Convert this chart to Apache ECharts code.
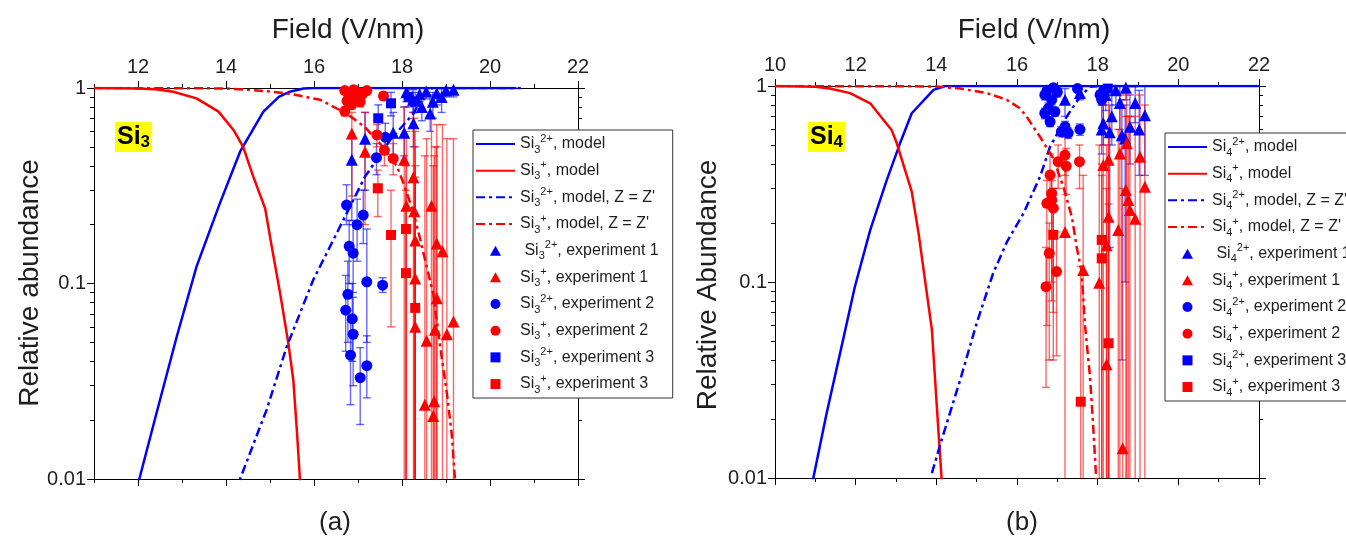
<!DOCTYPE html>
<html>
<head>
<meta charset="utf-8">
<script src="https://cdn.jsdelivr.net/npm/echarts@6/dist/echarts.min.js"></script>
<style>
html, body { margin: 0; padding: 0; background: #fff; }
#chart { width: 1346px; height: 543px; }
</style>
</head>
<body>
<div id="chart"></div>
<script>
// ---------- axis ranges and tick labels ----------
const si3FieldRange = [11, 22];
const si3FieldLabels = [12, 14, 16, 18, 20, 22];
const si4FieldRange = [10, 22];
const si4FieldLabels = [10, 12, 14, 16, 18, 20, 22];
const abundanceRange = [0.01, 1];

// ---------- Si3: model curves [field (V/nm), relative abundance] ----------
const si3DiModel = [[11.9, 0.0085], [12.03, 0.01], [12.42, 0.0217], [12.88, 0.0534], [13.33, 0.122], [13.86, 0.257],
  [14.32, 0.472], [14.85, 0.757], [15.2, 0.9], [15.45, 0.957], [15.76, 0.995], [16.0, 1], [20.6, 1]];
const si3MonoModel = [[11, 1], [12, 0.995], [12.4, 0.985], [12.8, 0.957], [13.33, 0.885], [13.83, 0.757], [14.17, 0.61],
  [14.39, 0.5], [14.62, 0.352], [14.89, 0.242], [15.04, 0.154], [15.23, 0.089], [15.42, 0.049], [15.53, 0.032],
  [15.61, 0.0178], [15.68, 0.01], [15.72, 0.008]];
const si3DiModelZ = [[14.25, 0.0085], [14.32, 0.01], [14.92, 0.0225], [15.38, 0.0475], [15.98, 0.104], [16.59, 0.195],
  [17.16, 0.352], [17.73, 0.542], [18.26, 0.74], [18.56, 0.98], [18.7, 1], [20.7, 1]];
const si3MonoModelZ = [[11, 1], [14, 0.995], [15, 0.96], [15.5, 0.93], [16.14, 0.87], [16.74, 0.74], [17.16, 0.63],
  [17.5, 0.52], [17.88, 0.4], [18.07, 0.31], [18.26, 0.23], [18.41, 0.17], [18.56, 0.122], [18.71, 0.089],
  [18.86, 0.049], [19.02, 0.0274], [19.13, 0.017], [19.2, 0.0103], [19.23, 0.008]];

// ---------- Si3: experiments [field, abundance, error low, error high] ----------
const si3DiExp1 = [[16.86, 0.43, 0.21, 0.55], [17.16, 0.55, 0.3, 0.75], [17.8, 0.59, 0.45, 0.75], [18.05, 0.59, 0.45, 0.8],
  [18.26, 0.66, 0.5, 0.9], [18.64, 0.74, 0.6, 0.92], [18.25, 0.87, 0.75, 0.98], [18.4, 0.93, 0.85, 1],
  [18.79, 0.94, 0.82, 1], [18.9, 0.9, 0.75, 1], [19.0, 0.97, 0.9, 1], [19.17, 0.98, 0.9, 1],
  [18.55, 0.96, 0.88, 1], [18.1, 0.95, 0.85, 1], [18.7, 0.85, 0.7, 0.95], [18.45, 0.8, 0.68, 0.92]];
const si3MonoExp1 = [[16.86, 0.586, 0.28, 0.75], [17.16, 0.472, 0.2, 0.75], [18.05, 0.43, 0.001, 0.8], [18.26, 0.35, 0.001, 0.75],
  [18.1, 0.25, 0.001, 0.6], [18.28, 0.234, 0.001, 0.7], [18.67, 0.25, 0.001, 0.7], [18.3, 0.166, 0.001, 0.6],
  [18.79, 0.16, 0.001, 0.65], [18.92, 0.146, 0.001, 0.65], [18.3, 0.106, 0.001, 0.5], [18.79, 0.084, 0.001, 0.5],
  [19.17, 0.064, 0.001, 0.55], [18.3, 0.06, 0.001, 0.4], [18.75, 0.058, 0.001, 0.5], [18.56, 0.051, 0.001, 0.55],
  [19.02, 0.055, 0.001, 0.55], [18.52, 0.024, 0.001, 0.45], [18.73, 0.025, 0.001, 0.45], [18.71, 0.021, 0.001, 0.4]];
const si3DiExp2 = [[16.74, 0.252, 0.2, 0.32], [17.12, 0.224, 0.16, 0.3], [16.98, 0.2, 0.13, 0.27], [16.8, 0.155, 0.1, 0.21],
  [16.89, 0.143, 0.09, 0.2], [17.2, 0.102, 0.05, 0.19], [17.56, 0.098, 0.09, 0.107], [16.77, 0.088, 0.05, 0.13],
  [16.72, 0.073, 0.045, 0.11], [16.87, 0.066, 0.04, 0.1], [16.89, 0.055, 0.03, 0.085], [16.83, 0.043, 0.024, 0.065],
  [17.2, 0.038, 0.026, 0.054], [17.05, 0.033, 0.019, 0.047], [17.42, 0.44, 0.36, 0.52], [17.62, 0.56, 0.46, 0.66]];
const si3MonoExp2 = [[16.7, 0.97, 0.94, 1], [16.8, 0.92, 0.88, 0.96], [16.9, 0.98, 0.95, 1], [16.95, 0.9, 0.86, 0.94],
  [17.0, 0.95, 0.92, 0.98], [17.1, 0.93, 0.9, 0.96], [16.75, 0.86, 0.82, 0.9], [17.2, 0.97, 0.94, 1],
  [17.05, 0.85, 0.8, 0.9], [16.85, 0.82, 0.78, 0.86], [16.7, 0.76, 0.72, 0.8], [17.58, 0.91, 0.87, 0.95],
  [17.43, 0.575, 0.5, 0.65], [17.6, 0.48, 0.4, 0.56], [17.8, 0.436, 0.36, 0.52]];
const si3DiExp3 = [[17.75, 0.835, 0.72, 0.95], [17.46, 0.7, 0.58, 0.82], [18.15, 0.9, 0.8, 1], [18.3, 0.85, 0.75, 0.95]];
const si3MonoExp3 = [[17.45, 0.307, 0.22, 0.38], [17.75, 0.177, 0.06, 0.3], [18.09, 0.19, 0.001, 0.4],
  [18.09, 0.113, 0.001, 0.3], [18.3, 0.075, 0.001, 0.35]];

// ---------- Si4: model curves ----------
const si4DiModel = [[10.9, 0.0085], [10.95, 0.01], [11.28, 0.0214], [11.65, 0.0468], [11.98, 0.0946], [12.36, 0.184],
  [12.77, 0.331], [13.1, 0.51], [13.39, 0.726], [13.93, 0.955], [14.22, 1], [22, 1]];
const si4MonoModel = [[10, 1], [11, 0.99], [11.36, 0.97], [11.86, 0.92], [12.36, 0.816], [12.89, 0.597], [13.02, 0.51],
  [13.39, 0.289], [13.56, 0.177], [13.72, 0.102], [13.89, 0.057], [13.97, 0.0316], [14.05, 0.0176], [14.13, 0.01],
  [14.15, 0.008]];
const si4DiModelZ = [[13.89, 0.0106], [14.13, 0.0156], [14.59, 0.0316], [15.0, 0.0616], [15.41, 0.111], [15.75, 0.16],
  [16.16, 0.224], [16.57, 0.344], [16.82, 0.49], [17.23, 0.697], [17.56, 0.88], [17.81, 0.99], [18.0, 1], [19.0, 1]];
const si4MonoModelZ = [[10, 1], [14, 0.995], [14.59, 0.97], [15.25, 0.92], [15.75, 0.85], [16.07, 0.77], [16.24, 0.697],
  [16.57, 0.551], [16.9, 0.427], [17.15, 0.306], [17.36, 0.215], [17.48, 0.151], [17.6, 0.113], [17.69, 0.059],
  [17.81, 0.0329], [17.89, 0.0183], [17.96, 0.0102], [17.97, 0.009]];

// ---------- Si4: experiments ----------
const si4DiExp1 = [[17.19, 0.85, 0.7, 0.97], [17.56, 0.92, 0.85, 1], [18.14, 0.645, 0.5, 0.85], [18.55, 0.82, 0.6, 1],
  [18.8, 0.62, 0.4, 0.9], [19.03, 0.6, 0.35, 0.95], [18.93, 0.82, 0.65, 1], [19.17, 0.71, 0.35, 1],
  [18.6, 0.56, 0.04, 0.85], [18.68, 0.54, 0.1, 0.8], [18.2, 0.9, 0.75, 1], [18.45, 0.95, 0.8, 1],
  [18.7, 0.98, 0.85, 1], [18.35, 0.7, 0.5, 0.9], [18.3, 0.58, 0.15, 0.8], [18.1, 0.6, 0.45, 0.8]];
const si4MonoExp1 = [[17.19, 0.18, 0.001, 0.45], [17.64, 0.115, 0.001, 0.35], [18.14, 0.395, 0.001, 0.8],
  [18.27, 0.42, 0.001, 0.9], [18.55, 0.453, 0.001, 0.9], [18.72, 0.51, 0.001, 0.9], [19.05, 0.436, 0.001, 0.9],
  [19.17, 0.306, 0.001, 0.8], [18.7, 0.295, 0.001, 0.7], [18.76, 0.262, 0.001, 0.7], [18.8, 0.233, 0.001, 0.7],
  [18.93, 0.21, 0.001, 0.7], [18.51, 0.184, 0.001, 0.6], [18.27, 0.215, 0.001, 0.6], [18.22, 0.154, 0.001, 0.5],
  [18.04, 0.099, 0.001, 0.5], [18.22, 0.038, 0.001, 0.3], [18.62, 0.0142, 0.001, 0.3]];
const si4DiExp2 = [[16.69, 0.9, 0.85, 0.95], [16.86, 0.85, 0.8, 0.9], [16.78, 0.77, 0.72, 0.82], [16.94, 0.74, 0.7, 0.78],
  [16.82, 0.657, 0.62, 0.7], [16.69, 0.726, 0.68, 0.77], [17.19, 0.62, 0.58, 0.66], [17.1, 0.585, 0.55, 0.62],
  [17.56, 0.6, 0.56, 0.64], [17.27, 0.575, 0.54, 0.61], [16.75, 0.95, 0.9, 1], [17.0, 0.93, 0.88, 0.98],
  [18.06, 0.9, 0.85, 0.95], [18.15, 0.95, 0.9, 1], [18.1, 0.85, 0.8, 0.9], [17.5, 0.97, 0.93, 1], [16.9, 0.98, 0.94, 1]];
const si4MonoExp2 = [[17.19, 0.444, 0.35, 0.55], [17.02, 0.411, 0.3, 0.5], [17.22, 0.39, 0.28, 0.48], [17.55, 0.411, 0.3, 0.5],
  [16.82, 0.351, 0.25, 0.45], [16.86, 0.283, 0.1, 0.35], [16.86, 0.262, 0.08, 0.33], [16.74, 0.252, 0.06, 0.33],
  [16.9, 0.238, 0.07, 0.3], [16.8, 0.14, 0.04, 0.2], [16.98, 0.113, 0.042, 0.18], [16.72, 0.0946, 0.029, 0.15]];
const si4DiExp3 = [[18.15, 0.92, 0.85, 1], [18.25, 0.97, 0.9, 1]];
const si4MonoExp3 = [[16.9, 0.174, 0.04, 0.3], [18.1, 0.164, 0.001, 0.4], [18.1, 0.132, 0.001, 0.35],
  [17.58, 0.0245, 0.001, 0.12], [18.27, 0.0487, 0.001, 0.25]];

// ---------- styling ----------
const FONT = '"Liberation Sans", Arial, sans-serif';
const BLUE = '#0000ff';
const RED = '#ff0000';
const INK = '#1e1e1e';
const DASH_DOT = [9, 4, 3, 4];
const TRIANGLE_ICON = 'path://M5,0L10,9L0,9Z';
const SQUARE_ICON = 'path://M0,0L8,0L8,8L0,8Z';

const chart = echarts.init(document.getElementById('chart'), null, { renderer: 'canvas' });

const axisLine = { show: true, lineStyle: { color: '#000', width: 1 } };
const tickLine = { color: '#000', width: 1 };

function integerTicks(range) {
  const out = [];
  for (let v = range[0]; v <= range[1]; v++) out.push(v);
  return out;
}

// minor decade ticks, placed on an exponent axis spanning the same height
function minorDecadeExponents() {
  const out = [];
  [0.01, 0.1].forEach(d => { for (let m = 2; m <= 9; m++) out.push(Math.log10(m * d)); });
  return out;
}

function xAxesFor(g, range, labels) {
  const base = { gridIndex: g, type: 'value', min: range[0], max: range[1], splitLine: { show: false } };
  const ints = integerTicks(range);
  return [
    Object.assign({}, base, {
      position: 'top', axisLine,
      axisTick: { customValues: labels, length: 7, lineStyle: tickLine },
      axisLabel: { customValues: labels, fontSize: 20, margin: 11, color: INK, fontFamily: FONT }
    }),
    Object.assign({}, base, {
      position: 'top', axisLine: { show: false },
      axisTick: { customValues: ints, length: 4, lineStyle: tickLine }, axisLabel: { show: false }
    }),
    Object.assign({}, base, {
      position: 'bottom', axisLine,
      axisTick: { customValues: labels, length: 7, lineStyle: tickLine }, axisLabel: { show: false }
    }),
    Object.assign({}, base, {
      position: 'bottom', axisLine: { show: false },
      axisTick: { customValues: ints, length: 4, lineStyle: tickLine }, axisLabel: { show: false }
    })
  ];
}

function yAxesFor(g) {
  const logBase = {
    gridIndex: g, type: 'log', logBase: 10, min: abundanceRange[0], max: abundanceRange[1],
    splitLine: { show: false }
  };
  const minor = {
    gridIndex: g, type: 'value', min: Math.log10(abundanceRange[0]), max: Math.log10(abundanceRange[1]),
    splitLine: { show: false }, axisLine: { show: false }, axisLabel: { show: false },
    axisTick: { customValues: minorDecadeExponents(), length: 4, lineStyle: tickLine }
  };
  return [
    Object.assign({}, logBase, {
      position: 'left', axisLine, axisTick: { length: 7, lineStyle: tickLine },
      axisLabel: {
        fontSize: 20, margin: 8, color: INK, fontFamily: FONT,
        formatter: v => String(parseFloat(Number(v).toPrecision(2)))
      }
    }),
    Object.assign({}, minor, { position: 'left' }),
    Object.assign({}, logBase, {
      position: 'right', axisLine, axisTick: { length: 7, lineStyle: tickLine }, axisLabel: { show: false }
    }),
    Object.assign({}, minor, { position: 'right' })
  ];
}

// vertical error bars with end caps
function renderErrorBar(params, api) {
  const x = api.value(0);
  const top = api.coord([x, api.value(2)]);
  const bot = api.coord([x, api.value(1)]);
  const color = api.value(3) ? 'rgba(255,0,0,0.6)' : 'rgba(0,0,255,0.6)';
  const style = { stroke: color, lineWidth: 1.4, fill: null };
  const half = 4;
  return {
    type: 'group',
    children: [
      { type: 'line', shape: { x1: top[0], y1: top[1], x2: bot[0], y2: bot[1] }, style },
      { type: 'line', shape: { x1: top[0] - half, y1: top[1], x2: top[0] + half, y2: top[1] }, style },
      { type: 'line', shape: { x1: bot[0] - half, y1: bot[1], x2: bot[0] + half, y2: bot[1] }, style }
    ]
  };
}

function panelSeries(g, n, d) {
  const ax = { xAxisIndex: 4 * g, yAxisIndex: 4 * g };
  const line = (name, data, color, type) => Object.assign({
    type: 'line', name, data, symbol: 'none', z: 3,
    lineStyle: { color, width: 2.5, type }, itemStyle: { color }
  }, ax);
  const dots = (name, pts, color, symbol, size) => Object.assign({
    type: 'scatter', name, data: pts.map(p => [p[0], p[1]]), symbol, symbolSize: size, z: 4,
    itemStyle: { color, opacity: 1 }
  }, ax);
  const bars = [];
  [[d.diExp1, 0], [d.monoExp1, 1], [d.diExp2, 0], [d.monoExp2, 1], [d.diExp3, 0], [d.monoExp3, 1]]
    .forEach(([pts, red]) => pts.forEach(p => bars.push([p[0], p[2], p[3], red])));
  return [
    Object.assign({ type: 'custom', name: 'error bars', renderItem: renderErrorBar, data: bars, clip: true, z: 2, silent: true }, ax),
    line(`Si_${n}^2+, model`, d.diModel, BLUE, 'solid'),
    line(`Si_${n}^+, model`, d.monoModel, RED, 'solid'),
    line(`Si_${n}^2+, model, Z = Z'`, d.diModelZ, BLUE, DASH_DOT),
    line(`Si_${n}^+, model, Z = Z'`, d.monoModelZ, RED, DASH_DOT),
    dots(` Si_${n}^2+, experiment 1`, d.diExp1, BLUE, 'triangle', 12),
    dots(`Si_${n}^+, experiment 1`, d.monoExp1, RED, 'triangle', 12),
    dots(`Si_${n}^2+, experiment 2`, d.diExp2, BLUE, 'circle', 11),
    dots(`Si_${n}^+, experiment 2`, d.monoExp2, RED, 'circle', 11),
    dots(`Si_${n}^2+, experiment 3`, d.diExp3, BLUE, 'rect', 10),
    dots(`Si_${n}^+, experiment 3`, d.monoExp3, RED, 'rect', 10)
  ];
}

function legendItems(n) {
  const lineItem = name => ({ name, itemStyle: { opacity: 0 } });
  return [
    lineItem(`Si_${n}^2+, model`), lineItem(`Si_${n}^+, model`),
    lineItem(`Si_${n}^2+, model, Z = Z'`), lineItem(`Si_${n}^+, model, Z = Z'`),
    { name: ` Si_${n}^2+, experiment 1`, icon: TRIANGLE_ICON },
    { name: `Si_${n}^+, experiment 1`, icon: TRIANGLE_ICON },
    { name: `Si_${n}^2+, experiment 2`, icon: 'circle' },
    { name: `Si_${n}^+, experiment 2`, icon: 'circle' },
    { name: `Si_${n}^2+, experiment 3`, icon: SQUARE_ICON },
    { name: `Si_${n}^+, experiment 3`, icon: SQUARE_ICON }
  ];
}

// "Si_3^2+, model" -> Si with subscript 3 and superscript 2+
function legendRich(name) {
  const m = /^(\s*)Si_(\d)\^([^,]+)(.*)$/.exec(name);
  return `{t|${m[1]}Si}{sub|${m[2]}}{sup|${m[3]}}{t|${m[4]}}`;
}

function legendFor(n, left, top) {
  return {
    data: legendItems(n), orient: 'vertical', left, top, selectedMode: false,
    itemWidth: 39, itemHeight: 10, itemGap: 4.67, padding: [3, 14, 3, 2],
    symbolKeepAspect: true,
    backgroundColor: '#fff', borderColor: '#333', borderWidth: 1,
    formatter: legendRich,
    textStyle: {
      color: INK, fontFamily: FONT, fontSize: 16,
      rich: {
        t: { fontSize: 16, lineHeight: 22, fontFamily: FONT, color: INK },
        sub: { fontSize: 11, verticalAlign: 'bottom', fontFamily: FONT, color: INK },
        sup: { fontSize: 11, verticalAlign: 'top', fontFamily: FONT, color: INK }
      }
    }
  };
}

function textEl(text, x, y, size, opts) {
  return Object.assign({
    type: 'text', x, y, silent: true,
    style: {
      legacy: false, text, fontSize: size, fontFamily: FONT, fill: INK,
      align: 'center', verticalAlign: 'middle'
    }
  }, opts || {});
}

function speciesTag(n, x, y) {
  return {
    type: 'text', x, y, silent: true, z: 10,
    style: {
      legacy: false, text: `{b|Si}{s|${n}}`, backgroundColor: '#ffff00', padding: [1, 2, 1, 2],
      rich: {
        b: { fontSize: 25, fontWeight: 'bold', fontFamily: FONT, fill: '#000', lineHeight: 28 },
        s: { fontSize: 17, fontWeight: 'bold', fontFamily: FONT, fill: '#000', verticalAlign: 'bottom' }
      }
    }
  };
}

const si3 = { diModel: si3DiModel, monoModel: si3MonoModel, diModelZ: si3DiModelZ, monoModelZ: si3MonoModelZ,
  diExp1: si3DiExp1, monoExp1: si3MonoExp1, diExp2: si3DiExp2, monoExp2: si3MonoExp2, diExp3: si3DiExp3, monoExp3: si3MonoExp3 };
const si4 = { diModel: si4DiModel, monoModel: si4MonoModel, diModelZ: si4DiModelZ, monoModelZ: si4MonoModelZ,
  diExp1: si4DiExp1, monoExp1: si4MonoExp1, diExp2: si4DiExp2, monoExp2: si4MonoExp2, diExp3: si4DiExp3, monoExp3: si4MonoExp3 };

chart.setOption({
  backgroundColor: '#fff',
  animation: false,
  grid: [
    { left: 94, top: 88, width: 484, height: 391, outerBoundsMode: 'none' },
    { left: 775, top: 86, width: 484, height: 392, outerBoundsMode: 'none' }
  ],
  xAxis: xAxesFor(0, si3FieldRange, si3FieldLabels).concat(xAxesFor(1, si4FieldRange, si4FieldLabels)),
  yAxis: yAxesFor(0).concat(yAxesFor(1)),
  legend: [legendFor(3, 473, 130), legendFor(4, 1165, 133)],
  series: panelSeries(0, 3, si3).concat(panelSeries(1, 4, si4)),
  graphic: [
    textEl('Field (V/nm)', 348, 30, 28),
    textEl('Field (V/nm)', 1034, 30, 28),
    textEl('Relative abundance', 30, 283, 28, { rotation: Math.PI / 2 }),
    textEl('Relative Abundance', 708, 285, 28, { rotation: Math.PI / 2 }),
    textEl('(a)', 335, 523, 26),
    textEl('(b)', 1022, 523, 26),
    speciesTag(3, 115, 122),
    speciesTag(4, 808, 122)
  ]
});
</script>
</body>
</html>
